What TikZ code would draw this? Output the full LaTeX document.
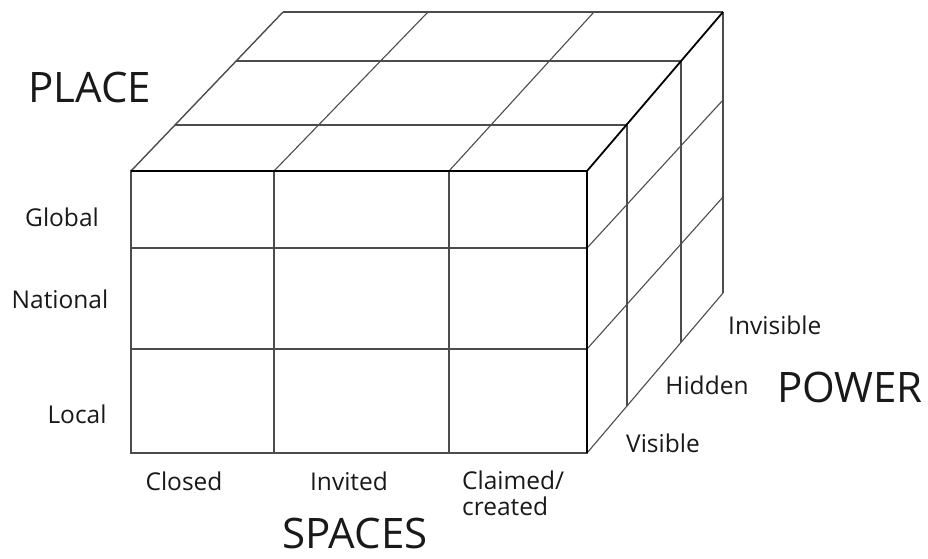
\documentclass[tikz,border=0pt]{standalone}
\usepackage{fontspec}
\setmainfont{Open Sans}
\usetikzlibrary{positioning}

\tikzset{
  edge/.style={line width=1.8pt, black},
  grid/.style={line width=1.1pt, black!70},
  small/.style={font=\fontsize{24.5}{25.5}\selectfont, inner sep=0pt, text=black!90},
  big/.style={font=\fontsize{42}{46}\selectfont, inner sep=0pt, text=black!90},
}

\begin{document}
\begin{tikzpicture}[x=1pt,y=-1pt]
    \useasboundingbox (0,0) rectangle (928,558);

    % Top face
    \draw[grid] (283,12) -- (723,12);
    \draw[grid] (236,61) -- (681,61);
    \draw[grid] (175,125) -- (627,125);
    \draw[grid] (274,171) -- (428,12);
    \draw[grid] (449,171) -- (594,12);
    \draw[grid, line width=1.4pt] (131,171) -- (283,12);

    % Right face
    \draw[grid] (627,124) -- (627,406);
    \draw[grid] (681,61) -- (681,342);
    \draw[grid] (723,12) -- (723,293);
    \draw[grid] (587,248) -- (723,100);
    \draw[grid] (587,349) -- (723,197);
    \draw[grid] (587,453) -- (723,293);

    % Front face
    \draw[grid, line width=1.4pt] (131,171) rectangle (587,453);
    \foreach \x in {274,449}
        \draw[grid, line width=1.4pt] (\x,171) -- (\x,453);
    \foreach \y in {248,349}
        \draw[grid, line width=1.4pt] (131,\y) -- (587,\y);
    \draw[edge] (131,171) -- (587,171) -- (587,453);
    \draw[edge] (587,171) -- (723,12);

    % Labels
    \node[big] (place) at (90,87) {PLACE};
    \node[small] (global) at (62,217) {Global};
    \node[small] (national) at (60,299) {National};
    \node[small] (local) at (77,414) {Local};

    \node[small] (closed) at (184,481) {Closed};
    \node[small] (invited) at (349,481) {Invited};
    \node[small, align=left, anchor=north west] (claimed) at (462,471) {Claimed/\\created};
    \node[big] (spaces) at (355,533) {SPACES};

    \node[small, anchor=west] (invisible) at (728,325) {Invisible};
    \node[small] (hidden) at (707,385) {Hidden};
    \node[small] (visible) at (663,443) {Visible};
    \node[big] (power) at (850,387) {POWER};
\end{tikzpicture}
\end{document}
